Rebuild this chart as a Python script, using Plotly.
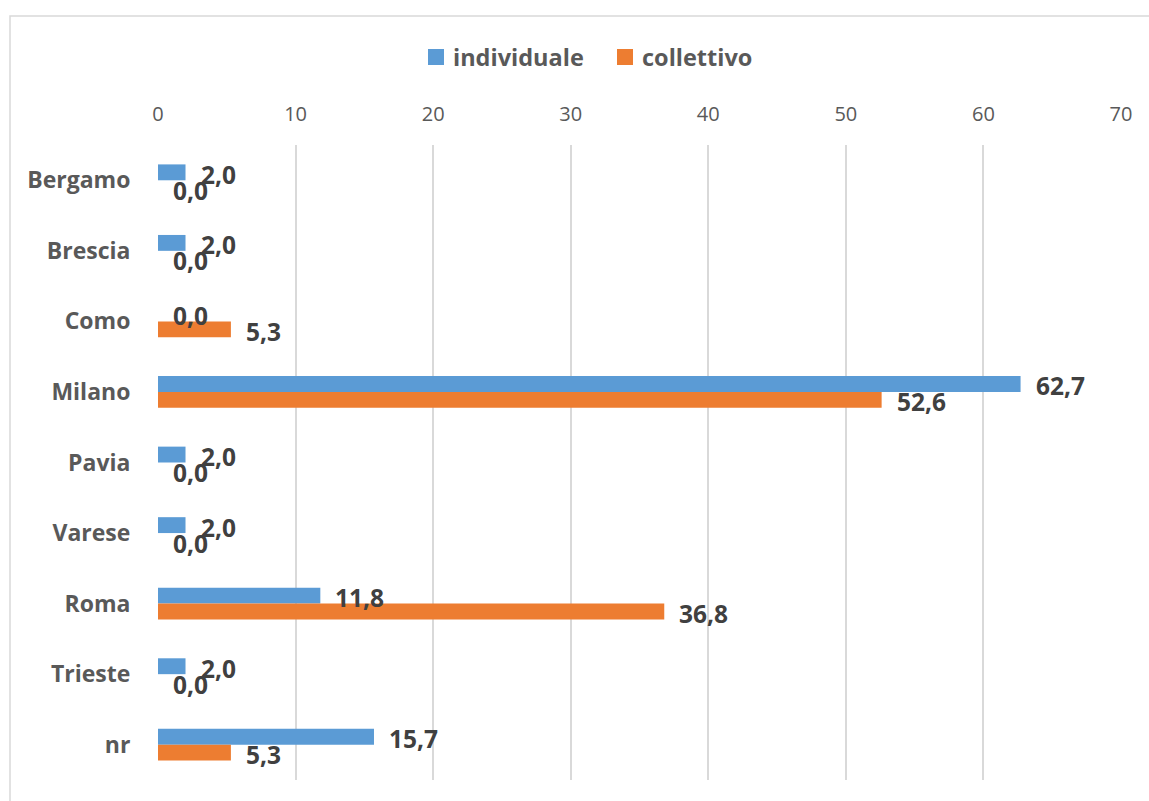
import plotly.graph_objects as go

# Categories (top to bottom) and the two series
cities = ["Bergamo", "Brescia", "Como", "Milano", "Pavia", "Varese", "Roma", "Trieste", "nr"]
individuale = [2.0, 2.0, 0.0, 62.7, 2.0, 2.0, 11.8, 2.0, 15.7]
collettivo = [0.0, 0.0, 5.3, 52.6, 0.0, 0.0, 36.8, 0.0, 5.3]
x_ticks = [0, 10, 20, 30, 40, 50, 60, 70]
series_names = ["individuale", "collettivo"]

BLUE = "#5B9BD5"
ORANGE = "#ED7D31"
FONT = "Open Sans"

W, H = 1149, 801
ML, MR, MT, MB = 158, 28, 145, 21
plot_w = W - ML - MR
plot_h = H - MT - MB


def px_x(p):
    """Page x pixel -> paper coordinate."""
    return (p - ML) / plot_w


def px_y(p):
    """Page y pixel (from top) -> paper coordinate."""
    return 1 - (p - MT) / plot_h


fig = go.Figure()
fig.add_trace(go.Bar(y=cities, x=individuale, name=series_names[0], orientation="h",
                     marker=dict(color=BLUE, line=dict(width=0)), showlegend=False))
fig.add_trace(go.Bar(y=cities, x=collettivo, name=series_names[1], orientation="h",
                     marker=dict(color=ORANGE, line=dict(width=0)), showlegend=False))


def fmt(v):
    return f"{v:.1f}".replace(".", ",")


# Data labels just past the end of each bar
for series, shift in ((individuale, 6), (collettivo, -10)):
    for c, v in zip(cities, series):
        fig.add_annotation(x=v, y=c, text=f"<b>{fmt(v)}</b>", showarrow=False,
                           xanchor="left", yanchor="middle", xshift=13, yshift=shift,
                           font=dict(family=FONT, size=24.5, color="#404040"))

# Legend: colour square + bold name, centred above the chart
legend_y = 57
for (x0, name, col) in ((428, series_names[0], BLUE), (617, series_names[1], ORANGE)):
    fig.add_shape(type="rect", xref="paper", yref="paper",
                  x0=px_x(x0), x1=px_x(x0 + 16), y0=px_y(legend_y + 8), y1=px_y(legend_y - 8),
                  line=dict(width=0), fillcolor=col)
    fig.add_annotation(xref="paper", yref="paper", x=px_x(x0 + 23), y=px_y(legend_y),
                       text=f"<b>{name}</b>", showarrow=False, xanchor="left", yanchor="middle",
                       font=dict(family=FONT, size=23.5, color="#595959"))

# Outer chart-area border
fig.add_shape(type="rect", xref="paper", yref="paper",
              x0=px_x(10), x1=px_x(W + 20), y0=px_y(H + 20), y1=px_y(16),
              line=dict(color="#D9D9D9", width=1.5), fillcolor="rgba(0,0,0,0)", layer="below")

fig.update_layout(
    width=W, height=H,
    margin=dict(l=ML, r=MR, t=MT, b=MB),
    paper_bgcolor="white", plot_bgcolor="white",
    barmode="group", bargap=0.55, bargroupgap=0,
    showlegend=False,
    xaxis=dict(side="top", range=[0, 70], tickvals=x_ticks, showgrid=True,
               gridcolor="#D9D9D9", gridwidth=1.5, zeroline=False, showline=False,
               ticks="outside", ticklen=15, tickcolor="rgba(0,0,0,0)",
               tickfont=dict(family=FONT, size=20, color="#595959")),
    yaxis=dict(autorange="reversed", showgrid=False, zeroline=False, showline=False,
               ticks="outside", ticklen=22, tickcolor="rgba(0,0,0,0)",
               tickprefix="<b>", ticksuffix="</b>",
               tickfont=dict(family=FONT, size=23, color="#595959")),
)

fig.write_html("out.html")
